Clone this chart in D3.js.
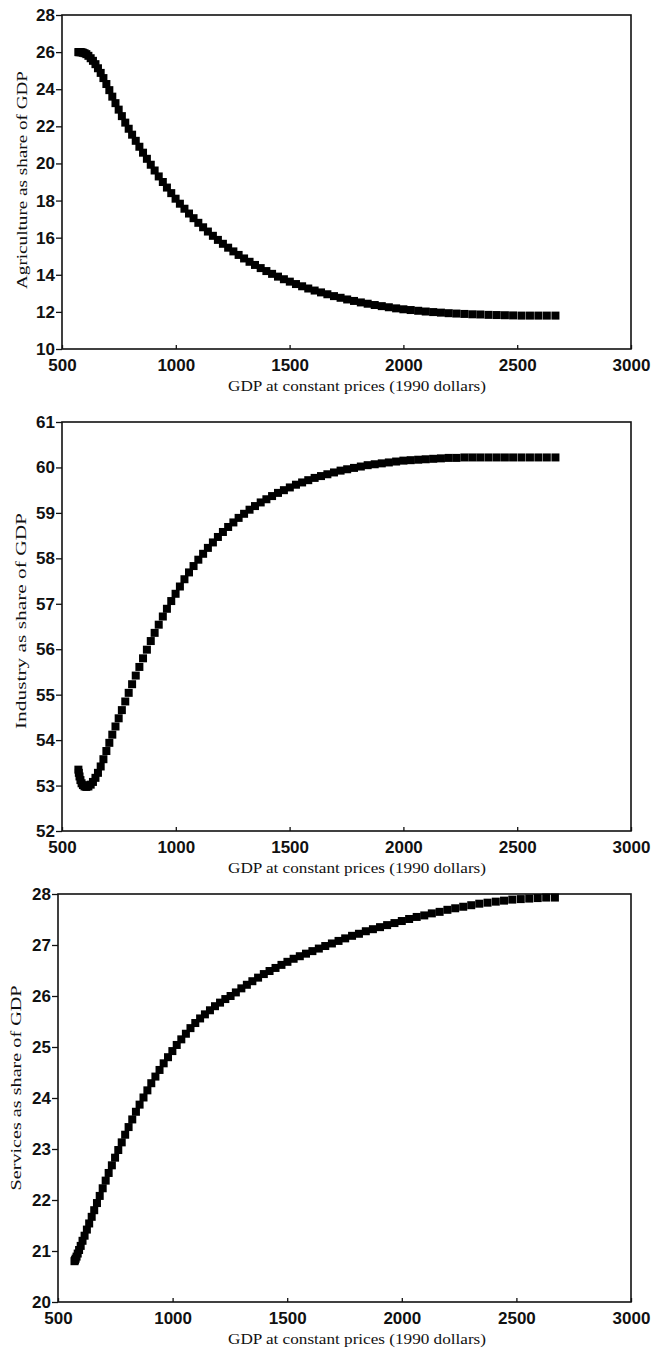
<!DOCTYPE html>
<html>
<head>
<meta charset="utf-8">
<script src="https://cdn.jsdelivr.net/npm/d3@7"></script>
<style>
  body { margin: 0; background: #fff; }
  .tick text { font-family: "Liberation Sans", Arial, sans-serif; font-weight: bold; fill: #111; }
  .ttl { font-family: "Liberation Serif", serif; fill: #111; }
</style>
</head>
<body>
<svg id="canvas" width="653" height="1357"></svg>
<script>
// GDP at constant prices (1990 dollars), one value per simulated period
const gdp = [572, 574, 577, 581, 586, 592, 599, 607, 616, 626,
  636, 647, 658, 670, 682, 695, 708, 721, 735, 749,
  763, 778, 793, 808, 824, 840, 856, 873, 890, 907,
  925, 943, 961, 980, 999, 1018, 1038, 1058, 1078, 1099,
  1120, 1141, 1163, 1185, 1207, 1230, 1253, 1276, 1300, 1324,
  1348, 1373, 1398, 1423, 1449, 1475, 1501, 1528, 1555, 1582,
  1610, 1638, 1666, 1695, 1724, 1753, 1783, 1813, 1843, 1874,
  1905, 1936, 1968, 2000, 2032, 2065, 2098, 2131, 2165, 2199,
  2233, 2268, 2303, 2338, 2374, 2410, 2446, 2482, 2519, 2556,
  2593, 2630, 2668]

const agriculture = [26.0, 26.0, 26.0, 26.0, 25.99, 25.97, 25.94, 25.89, 25.8, 25.67,
  25.53, 25.35, 25.13, 24.88, 24.6, 24.28, 23.95, 23.6, 23.25, 22.9,
  22.55, 22.2, 21.87, 21.55, 21.22, 20.9, 20.58, 20.25, 19.93, 19.62,
  19.3, 19.0, 18.7, 18.4, 18.1, 17.83, 17.56, 17.3, 17.05, 16.8,
  16.56, 16.33, 16.1, 15.88, 15.67, 15.46, 15.26, 15.07, 14.88, 14.7,
  14.53, 14.36, 14.2, 14.05, 13.9, 13.76, 13.63, 13.5, 13.38, 13.26,
  13.15, 13.05, 12.95, 12.85, 12.76, 12.67, 12.59, 12.51, 12.44, 12.37,
  12.31, 12.25, 12.19, 12.14, 12.1, 12.06, 12.02, 11.99, 11.96, 11.93,
  11.91, 11.89, 11.87, 11.86, 11.84, 11.83, 11.82, 11.81, 11.8, 11.8,
  11.8, 11.8, 11.8]

const industry = [53.35, 53.28, 53.2, 53.12, 53.05, 53.01, 52.98, 52.97, 52.98, 53.02,
  53.08, 53.17, 53.28, 53.42, 53.58, 53.76, 53.94, 54.12, 54.3, 54.48,
  54.66, 54.85, 55.04, 55.23, 55.42, 55.61, 55.8, 55.99, 56.18, 56.36,
  56.54, 56.72, 56.89, 57.06, 57.22, 57.38, 57.54, 57.69, 57.83, 57.97,
  58.1, 58.23, 58.35, 58.47, 58.58, 58.69, 58.79, 58.89, 58.98, 59.07,
  59.15, 59.23, 59.3, 59.37, 59.44, 59.5, 59.56, 59.62, 59.67, 59.72,
  59.77, 59.81, 59.85, 59.89, 59.93, 59.96, 59.99, 60.02, 60.05, 60.07,
  60.09, 60.11, 60.13, 60.15, 60.16, 60.17, 60.18, 60.19, 60.2, 60.21,
  60.21, 60.22, 60.22, 60.22, 60.22, 60.22, 60.22, 60.22, 60.22, 60.22,
  60.22, 60.22, 60.22]

const services = [20.8, 20.82, 20.85, 20.89, 20.95, 21.02, 21.1, 21.2, 21.3, 21.42,
  21.54, 21.67, 21.8, 21.94, 22.08, 22.23, 22.38, 22.53, 22.68, 22.83,
  22.98, 23.13, 23.28, 23.43, 23.58, 23.73, 23.87, 24.01, 24.15, 24.29,
  24.42, 24.55, 24.68, 24.8, 24.92, 25.04, 25.15, 25.26, 25.37, 25.47,
  25.56, 25.64, 25.72, 25.8, 25.87, 25.94, 26.0, 26.07, 26.15, 26.22,
  26.29, 26.36, 26.43, 26.49, 26.55, 26.61, 26.67, 26.73, 26.78, 26.83,
  26.88, 26.93, 26.98, 27.03, 27.08, 27.13, 27.18, 27.22, 27.27, 27.31,
  27.35, 27.39, 27.43, 27.47, 27.51, 27.55, 27.58, 27.62, 27.65, 27.69,
  27.72, 27.75, 27.78, 27.81, 27.83, 27.85, 27.87, 27.89, 27.9, 27.91,
  27.92, 27.93, 27.93]

const xTicks = [500, 1000, 1500, 2000, 2500, 3000]
const xTitle = "GDP at constant prices (1990 dollars)"

// one entry per panel
const paneles = [
  { serie: agriculture, yDom: [10, 28], yTicks: d3.range(10, 29, 2), titulo: "Agriculture as share of GDP",
    left: 62, top: 15, bottom: 349, ylab: { x: 22, y: 180, len: 218 } },
  { serie: industry, yDom: [52, 61], yTicks: d3.range(52, 62, 1), titulo: "Industry as share of GDP",
    left: 62, top: 422, bottom: 831, ylab: { x: 21, y: 621, len: 216 } },
  { serie: services, yDom: [20, 28], yTicks: d3.range(20, 29, 1), titulo: "Services as share of GDP",
    left: 58, top: 894, bottom: 1302, ylab: { x: 16, y: 1088, len: 205 } }
]

const svg = d3.select("#canvas")
const right = 631
const msize = 8

paneles.forEach(p => {
  const x = d3.scaleLinear().domain([500, 3000]).range([p.left, right])
  const y = d3.scaleLinear().domain(p.yDom).range([p.bottom, p.top])
  const g = svg.append("g")

  // marco
  g.append("rect")
    .attr("x", p.left).attr("y", p.top)
    .attr("width", right - p.left).attr("height", p.bottom - p.top)
    .attr("fill", "none").attr("stroke", "#111").attr("stroke-width", 1.6)

  // eje x, marcas hacia dentro
  const ax = g.append("g")
    .attr("transform", `translate(0,${p.bottom})`)
    .call(d3.axisBottom(x).tickValues(xTicks).tickSize(-4).tickPadding(10).tickFormat(d3.format("d")))
  ax.select(".domain").remove()
  ax.selectAll("text").attr("font-size", 17)
  ax.selectAll("line").attr("stroke", "#111").attr("stroke-width", 1.3)

  // eje y, marcas hacia fuera
  const ay = g.append("g")
    .attr("transform", `translate(${p.left},0)`)
    .call(d3.axisLeft(y).tickValues(p.yTicks).tickSize(6).tickPadding(1).tickFormat(d3.format("d")))
  ay.select(".domain").remove()
  ay.selectAll("text").attr("font-size", 17)
  ay.selectAll("line").attr("stroke", "#111").attr("stroke-width", 1.3)

  // marcadores
  g.selectAll("rect.m")
    .data(p.serie)
    .enter()
    .append("rect")
    .attr("class", "m")
    .attr("x", (d, i) => x(gdp[i]) - msize / 2)
    .attr("y", d => y(d) - msize / 2)
    .attr("width", msize).attr("height", msize)
    .attr("fill", "#000")

  // titulos
  g.append("text")
    .attr("class", "ttl")
    .attr("x", 357).attr("y", p.bottom + 42)
    .attr("text-anchor", "middle")
    .attr("font-size", 15)
    .attr("textLength", 258).attr("lengthAdjust", "spacingAndGlyphs")
    .text(xTitle)

  g.append("text")
    .attr("class", "ttl")
    .attr("transform", `translate(${p.ylab.x + 5},${p.ylab.y}) rotate(-90)`)
    .attr("text-anchor", "middle")
    .attr("font-size", 14)
    .attr("textLength", p.ylab.len).attr("lengthAdjust", "spacingAndGlyphs")
    .text(p.titulo)
})
</script>
</body>
</html>
